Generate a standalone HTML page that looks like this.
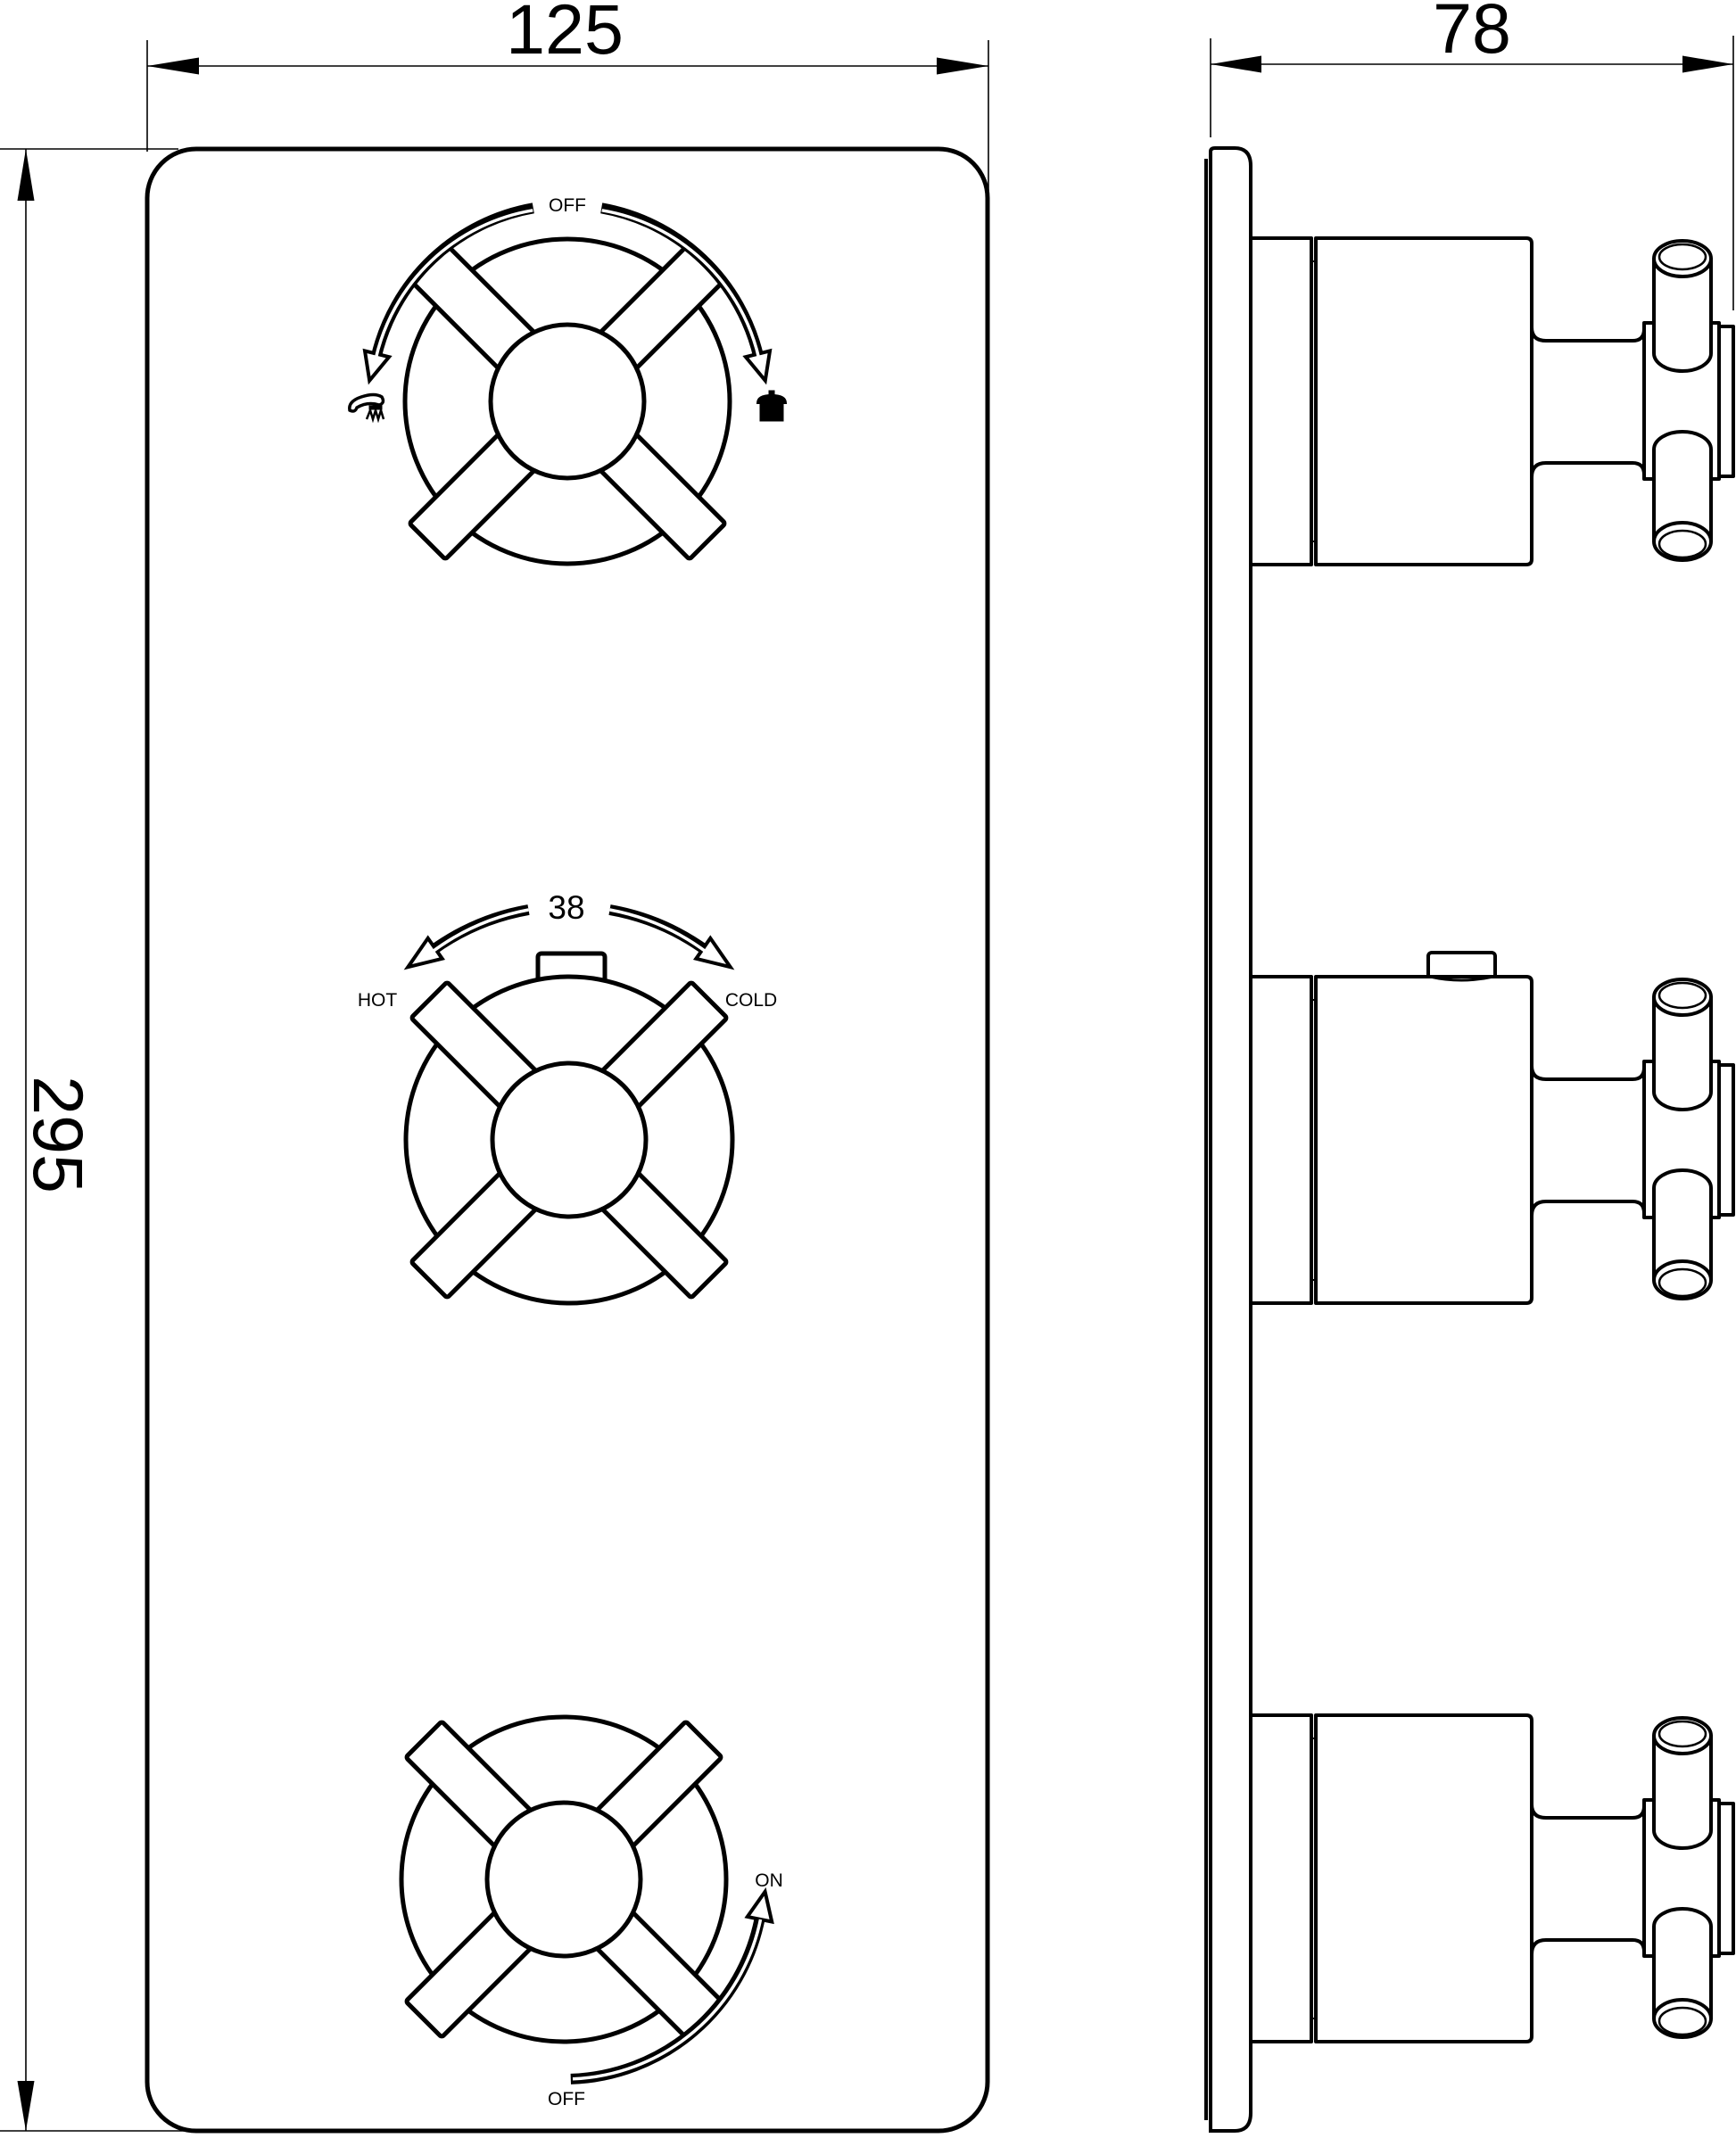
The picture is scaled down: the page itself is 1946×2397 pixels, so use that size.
<!DOCTYPE html>
<html><head><meta charset="utf-8"><style>
html,body{margin:0;padding:0;background:#fff}
svg{display:block}
text{font-family:"Liberation Sans",sans-serif;fill:#000}
</style></head><body>
<svg width="1946" height="2397" viewBox="0 0 1946 2397" xmlns="http://www.w3.org/2000/svg">
<defs>
<g id="side" fill="#fff" stroke="#000" stroke-width="4" stroke-linejoin="round">
  <rect x="1402" y="267" width="68" height="366"/>
  <path d="M1475,267 H1711 Q1717,267 1717,273 V627 Q1717,633 1711,633 H1475 Z"/>
  <line x1="1470" y1="293" x2="1475" y2="293" stroke-width="2"/>
  <line x1="1470" y1="607" x2="1475" y2="607" stroke-width="2"/>
  <path d="M1717,367 Q1717,382 1733,382 H1830 Q1843,382 1843,369" fill="none"/>
  <path d="M1717,535 Q1717,519 1733,519 H1830 Q1843,519 1843,532" fill="none"/>
  <rect x="1843" y="362" width="84" height="175"/>
  <rect x="1927" y="366" width="16" height="168"/>
  <path d="M1854,290 V396 A32,20 0 0 0 1918,396 V290 Z"/>
  <ellipse cx="1886" cy="290" rx="32" ry="20"/>
  <ellipse cx="1886" cy="288" rx="26" ry="14" stroke-width="2.5"/>
  <path d="M1854,607 V504 A32,20 0 0 1 1918,504 V607 Z"/>
  <ellipse cx="1886" cy="607" rx="32" ry="21"/>
  <ellipse cx="1886" cy="610" rx="26" ry="15" stroke-width="2.5"/>
</g>
</defs>

<g stroke="#000" stroke-width="1.6" fill="none">
  <line x1="165" y1="45" x2="165" y2="170"/>
  <line x1="1108" y1="45" x2="1108" y2="235"/>
  <line x1="165" y1="74" x2="1108" y2="74"/>
  <line x1="0" y1="167" x2="200" y2="167"/>
  <line x1="0" y1="2389" x2="215" y2="2389"/>
  <line x1="29" y1="167" x2="29" y2="2389"/>
  <line x1="1357" y1="43" x2="1357" y2="154"/>
  <line x1="1943" y1="40" x2="1943" y2="348"/>
  <line x1="1357" y1="72" x2="1943" y2="72"/>
</g>
<g fill="#000">
  <polygon points="165,74 223,64.5 223,83.5"/>
  <polygon points="1108,74 1050,64.5 1050,83.5"/>
  <polygon points="29,167 19.5,225 38.5,225"/>
  <polygon points="29,2389 19.5,2333 38.5,2333"/>
  <polygon points="1357,72 1414,62.5 1414,81.5"/>
  <polygon points="1943,72 1886,62.5 1886,81.5"/>
</g>
<text x="633" y="60" font-size="79" text-anchor="middle">125</text>
<text x="1650" y="59" font-size="79" text-anchor="middle">78</text>
<text transform="translate(38,1272) rotate(90)" font-size="79" text-anchor="middle">295</text>

<rect x="165" y="167" width="942" height="2222" rx="55" ry="55" fill="#fff" stroke="#000" stroke-width="5"/>

<g fill="#fff" stroke="#000" stroke-width="5" stroke-linejoin="round">
  <circle cx="636" cy="450" r="182"/>
  <rect x="-222" y="-28.5" width="444" height="57" rx="3" transform="translate(636,450) rotate(45)"/>
  <rect x="-222" y="-28.5" width="444" height="57" rx="3" transform="translate(636,450) rotate(-45)"/>
  <circle cx="636" cy="450" r="86"/>
</g>
<g fill="none">
  <path d="M597.8,233.3 A220,220 0 0 0 421.6,400.5" stroke="#000" stroke-width="12"/>
  <path d="M674.2,233.3 A220,220 0 0 1 850.4,400.5" stroke="#000" stroke-width="12"/>
  <polygon points="409,393.4 414.2,426.7 436.1,400.2" fill="#fff" stroke="#000" stroke-width="4" stroke-linejoin="miter"/>
  <polygon points="863,393.4 857.8,426.7 835.9,400.2" fill="#fff" stroke="#000" stroke-width="4" stroke-linejoin="miter"/>
  <path d="M597.3,235.8 A217.5,217.5 0 0 0 421,403" stroke="#fff" stroke-width="3.5"/>
  <path d="M674.7,235.8 A217.5,217.5 0 0 1 851,403" stroke="#fff" stroke-width="3.5"/>
</g>
<text x="636" y="237" font-size="21" text-anchor="middle">OFF</text>
<g fill="#000" stroke="#000">
  <path d="M392,460 Q390,450 405,445 Q420,440 428,445 Q432,452 425,454 Q412,450 400,457 Q398,463 392,460 Z" fill="none" stroke-width="3.5"/>
  <path d="M414,455 h14 v4 h-14 z" stroke-width="1"/>
  <path d="M411,470 l4,-10 l3,10 l3,-10 l3,10 l3,-10 l3,10" fill="none" stroke-width="2.5"/>
  <rect x="862" y="438" width="6" height="5" stroke-width="1"/>
  <path d="M849,452 Q849,443 865,443 Q881,443 881,452 Z" stroke-width="2"/>
  <rect x="852" y="452" width="26" height="20" stroke-width="1"/>
</g>

<g fill="#fff" stroke="#000" stroke-width="5" stroke-linejoin="round">
  <rect x="603" y="1069" width="75" height="45" rx="4"/>
  <circle cx="638" cy="1278" r="183"/>
  <rect x="-222" y="-28.5" width="444" height="57" rx="3" transform="translate(638,1278) rotate(45)"/>
  <rect x="-222" y="-28.5" width="444" height="57" rx="3" transform="translate(638,1278) rotate(-45)"/>
  <circle cx="638" cy="1278" r="86"/>
</g>
<g fill="none">
  <path d="M592.5,1020 A262,262 0 0 0 484,1066" stroke="#000" stroke-width="12"/>
  <path d="M683.5,1020 A262,262 0 0 1 792,1066" stroke="#000" stroke-width="12"/>
  <polygon points="479.7,1051.9 457.3,1084.2 495.7,1074.8" fill="#fff" stroke="#000" stroke-width="4"/>
  <polygon points="796.3,1051.9 818.7,1084.2 780.3,1074.8" fill="#fff" stroke="#000" stroke-width="4"/>
  <path d="M592.5,1020 A262,262 0 0 0 482,1069" stroke="#fff" stroke-width="3.5"/>
  <path d="M683.5,1020 A262,262 0 0 1 794,1069" stroke="#fff" stroke-width="3.5"/>
</g>
<text x="635" y="1030" font-size="37" text-anchor="middle">38</text>
<text x="423" y="1128" font-size="21" text-anchor="middle">HOT</text>
<text x="842" y="1128" font-size="21" text-anchor="middle">COLD</text>

<g fill="#fff" stroke="#000" stroke-width="5" stroke-linejoin="round">
  <circle cx="632" cy="2107" r="182"/>
  <rect x="-222" y="-28.5" width="444" height="57" rx="3" transform="translate(632,2107) rotate(45)"/>
  <rect x="-222" y="-28.5" width="444" height="57" rx="3" transform="translate(632,2107) rotate(-45)"/>
  <circle cx="632" cy="2107" r="86"/>
</g>
<g fill="none">
  <path d="M639.8,2330.9 A224,224 0 0 0 851.9,2149.7" stroke="#000" stroke-width="12"/>
  <polygon points="865.2,2154.5 857.6,2120.8 837.8,2148.9" fill="#fff" stroke="#000" stroke-width="4"/>
  <path d="M642,2330.7 A224,224 0 0 0 852.5,2152" stroke="#fff" stroke-width="3.5"/>
</g>
<text x="635" y="2360" font-size="21" text-anchor="middle">OFF</text>
<text x="862" y="2115" font-size="21" text-anchor="middle">ON</text>

<g fill="#fff" stroke="#000" stroke-width="4">
  <path d="M1357,2389 V170 Q1357,166 1362,166 H1384 Q1402,166 1402,186 V2369 Q1402,2389 1384,2389 Z"/>
  <line x1="1352" y1="178" x2="1352" y2="2377"/>
</g>
<use href="#side"/>
<g fill="#fff" stroke="#000" stroke-width="4">
  <rect x="1601" y="1068" width="75" height="34" rx="4"/>
</g>
<use href="#side" transform="translate(0,828)"/>
<path d="M1603,1095 Q1638,1103 1674,1095" fill="none" stroke="#000" stroke-width="3"/>
<use href="#side" transform="translate(0,1656)"/>
</svg>
</body></html>
